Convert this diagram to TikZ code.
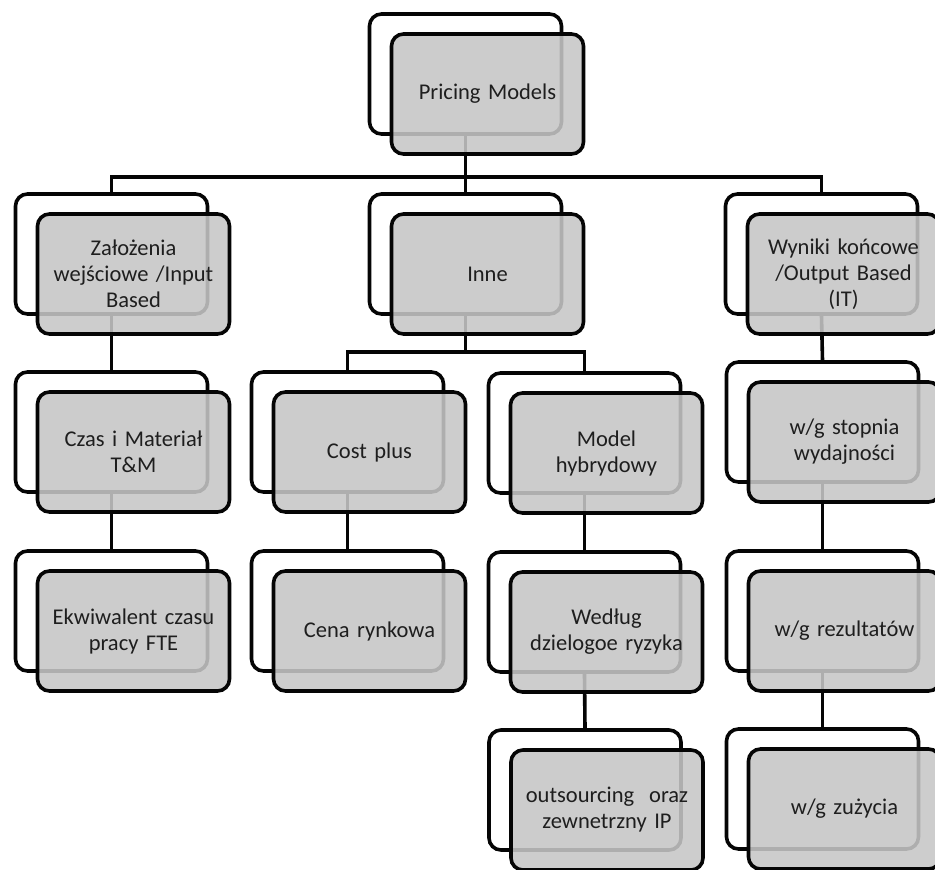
\documentclass[tikz,border=0pt]{standalone}
\usepackage{fontspec}
\setmainfont{Carlito}
\usepackage{xcolor}
\usepackage{tikz}
\usetikzlibrary{backgrounds}
\definecolor{Ink}{HTML}{050505}
\definecolor{BoxFill}{HTML}{C6C6C6}
\definecolor{Label}{HTML}{1E1E1E}
\tikzset{
  backbox/.style={rectangle,rounded corners=12pt,draw=Ink,line width=3.6pt,fill=white,minimum width=192pt,minimum height=120pt,inner sep=0pt},
  frontbox/.style={backbox,fill=BoxFill,fill opacity=0.88,text opacity=1,text=Label,text width=188pt,align=center,font=\fontsize{22.5}{26}\selectfont,xshift=22pt,yshift=-20pt},
  link/.style={draw=Ink,line width=3.6pt}
}

\begin{document}
\begin{tikzpicture}[x=1pt,y=-1pt]
  \useasboundingbox (0,0) rectangle (935,870);
  \clip (0,0) rectangle (935,870);
  % root
  \node[backbox] (rootb) at (465.5,74) {};
  \node[frontbox] (root) at (rootb) {Pricing Models};
  % first row
  \node[backbox] (zalb) at (111.5,254) {};
  \node[frontbox] (zal) at (zalb) {Założenia\\wejściowe /Input\\Based};
  \node[backbox] (inneb) at (465.5,254) {};
  \node[frontbox] (inne) at (inneb) {Inne};
  \node[backbox] (wynb) at (821.5,254) {};
  \node[frontbox] (wyn) at (wynb) {Wyniki końcowe\\/Output Based\\(IT)};
  % second row
  \node[backbox] (czasb) at (111.5,432) {};
  \node[frontbox] (czas) at (czasb) {Czas i Materiał\\T\&M};
  \node[backbox] (costb) at (347.5,432) {};
  \node[frontbox] (cost) at (costb) {Cost plus};
  \node[backbox] (hybb) at (584.5,433) {};
  \node[frontbox] (hyb) at (hybb) {Model\\hybrydowy};
  \node[backbox] (stopb) at (822.5,422) {};
  \node[frontbox] (stop) at (stopb) {w/g stopnia\\wydajności};
  % third row
  \node[backbox] (ekwb) at (111.5,611) {};
  \node[frontbox] (ekw) at (ekwb) {Ekwiwalent czasu\\pracy FTE};
  \node[backbox] (cenab) at (347.5,611) {};
  \node[frontbox] (cena) at (cenab) {Cena rynkowa};
  \node[backbox] (wedb) at (584.5,612) {};
  \node[frontbox] (wed) at (wedb) {Według\\dzielogoe ryzyka};
  \node[backbox] (rezb) at (822.5,611) {};
  \node[frontbox] (rez) at (rezb) {w/g rezultatów};
  % fourth row
  \node[backbox] (outsb) at (585,790) {};
  \node[frontbox] (outs) at (outsb) {outsourcing\ \ oraz\\zewnetrzny IP};
  \node[backbox] (zuzb) at (822.5,789) {};
  \node[frontbox] (zuz) at (zuzb) {w/g zużycia};
  % connectors behind the boxes
  \coordinate (topbar) at (465.5,177);
  \coordinate (midbar) at (465.5,352);
  \begin{pgfonlayer}{background}
    \draw[link] (rootb.south) -- (topbar);
    \draw[link] (zalb.north) |- (topbar) -| (wynb.north);
    \draw[link] (topbar) -- (inneb.north);
    \draw[link] (inneb.south) -- (midbar);
    \draw[link] (costb.north) |- (midbar) -| (hybb.north);
    \draw[link] (zalb.south) -- (czasb.north);
    \draw[link] (czasb.south) -- (ekwb.north);
    \draw[link] (costb.south) -- (cenab.north);
    \draw[link] (hybb.south) -- (wedb.north);
    \draw[link] (wedb.south) -- (outsb.north);
    \draw[link] (wynb.south) -- (stopb.north);
    \draw[link] (stopb.south) -- (rezb.north);
    \draw[link] (rezb.south) -- (zuzb.north);
  \end{pgfonlayer}
\end{tikzpicture}
\end{document}
